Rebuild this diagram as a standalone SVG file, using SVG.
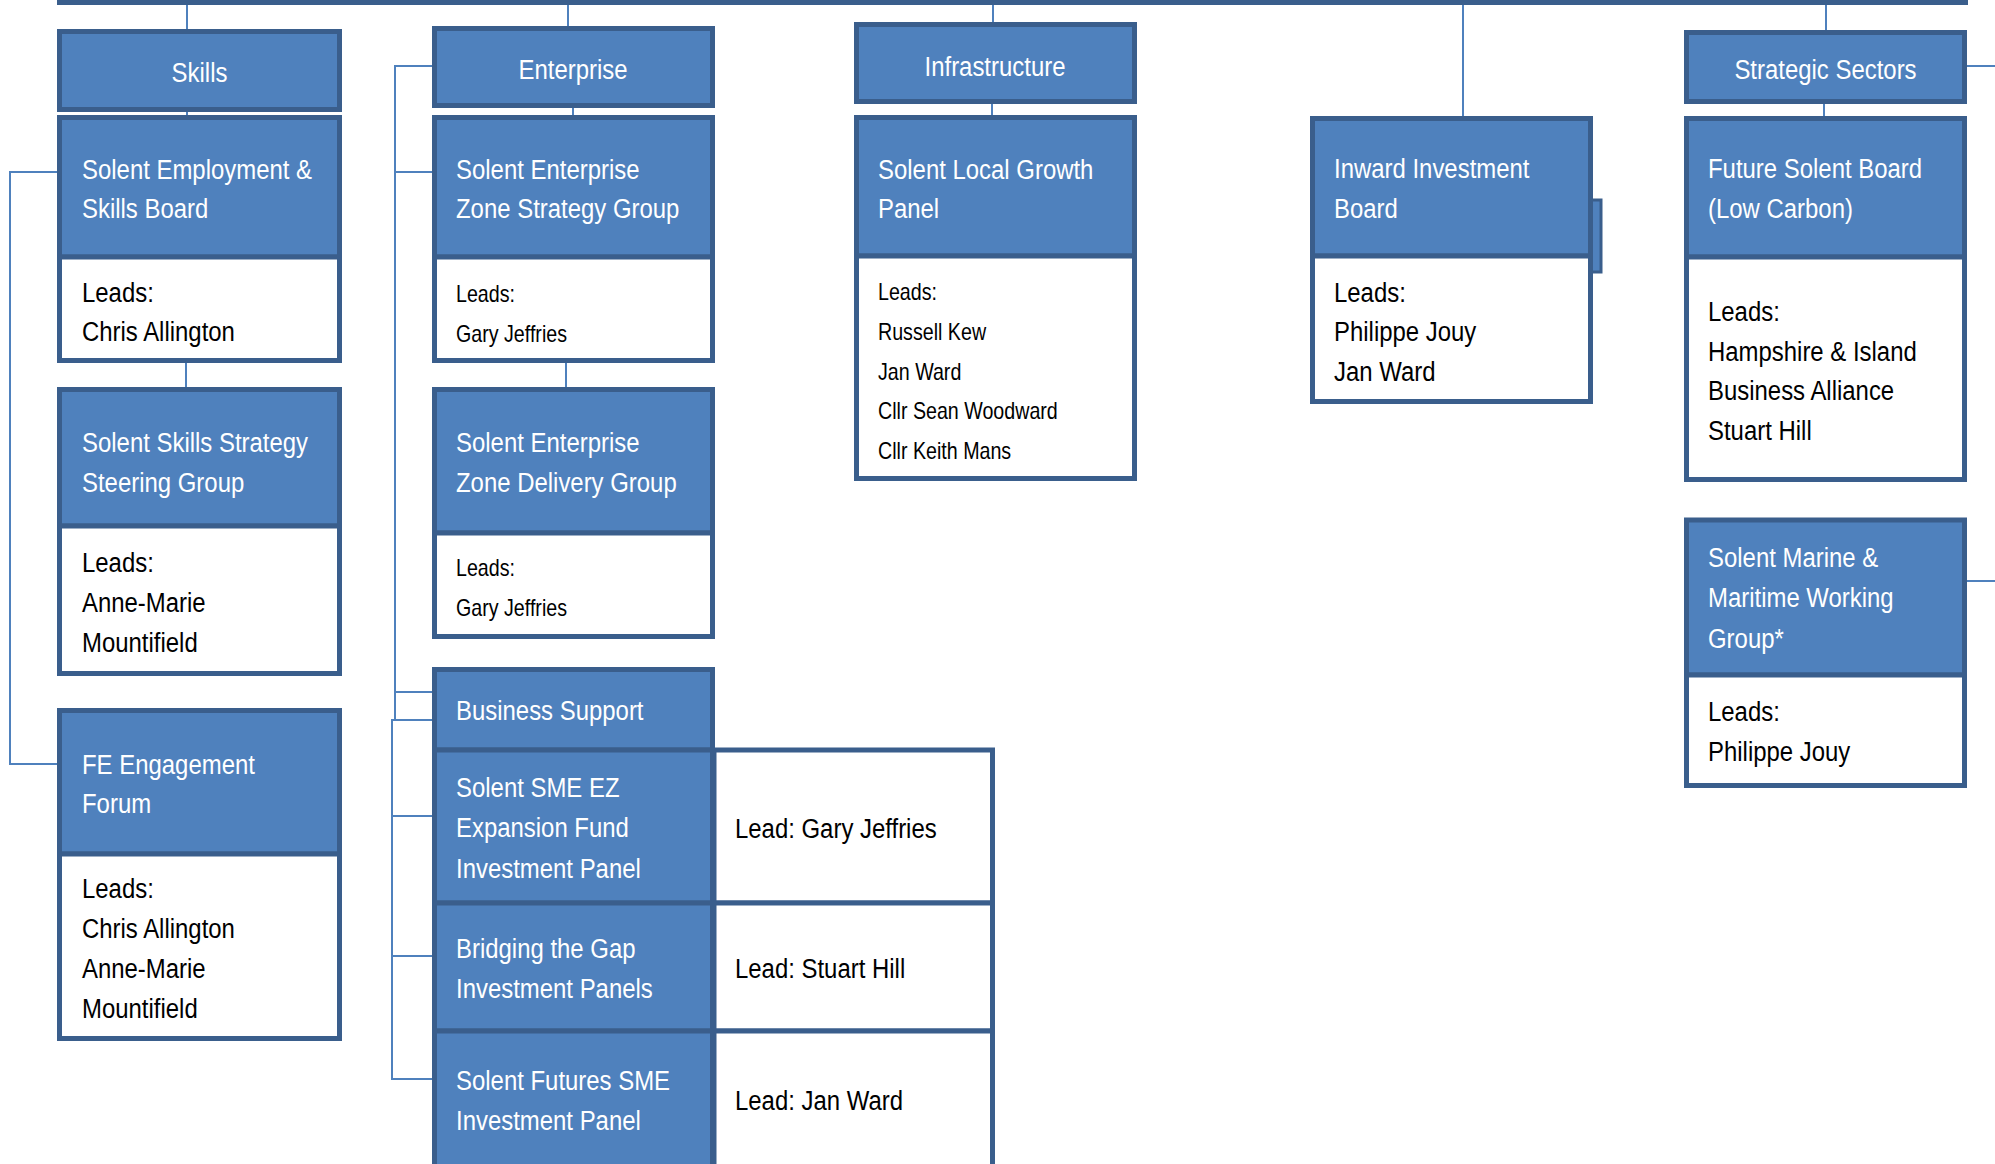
<svg xmlns="http://www.w3.org/2000/svg" width="1995" height="1164" viewBox="0 0 1995 1164">
<style>
.bl{fill:#4F81BD;stroke:#3A5E8C;stroke-width:5}
.wh{fill:#FFFFFF;stroke:#3A5E8C;stroke-width:5}
.cn{fill:none;stroke:#4F81BD;stroke-width:2}
.t{font-family:"Liberation Sans",Arial,sans-serif;font-size:28px;fill:#FFFFFF}
.l{font-family:"Liberation Sans",Arial,sans-serif;font-size:28px;fill:#000000}
.s{font-family:"Liberation Sans",Arial,sans-serif;font-size:23px;fill:#000000}
.c{text-anchor:middle}
</style>
<rect x="0" y="0" width="1995" height="1164" fill="#FFFFFF"/>
<g id="connectors">
<path class="cn" d="M187,4V29M187,112V115M186,363V387"/>
<path class="cn" d="M57,172H10V764H57"/>
<path class="cn" d="M568,4V26M573,108V115M566,363V387"/>
<path class="cn" d="M432,66H395V720M395,172H432M395,692H432"/>
<path class="cn" d="M432,720H392V1079H432M392,816H432M392,956H432"/>
<path class="cn" d="M993,4V22M992,104V115"/>
<path class="cn" d="M1463,4V116"/>
<path class="cn" d="M1826,4V30M1824,104V116"/>
<path class="cn" d="M1967,66H1995M1967,581H1995"/>
</g>
<g id="top-bar"><rect x="57" y="-5" width="1911" height="10" fill="#3A5E8C"/></g>

<g id="skills">
<rect class="bl" x="59.5" y="31.5" width="280" height="78"/>
<text class="t c" transform="translate(199.5,82) scale(0.855,1)">Skills</text>
</g>
<g id="employment-skills-board">
<rect class="bl" x="59.5" y="117.5" width="280" height="139.5"/>
<rect class="wh" x="59.5" y="257" width="280" height="103.5"/>
<text class="t" transform="translate(82,179) scale(0.855,1)"><tspan x="0" y="0">Solent Employment &amp;</tspan><tspan x="0" y="39">Skills Board</tspan></text>
<text class="l" transform="translate(82,302) scale(0.855,1)"><tspan x="0" y="0">Leads:</tspan><tspan x="0" y="39">Chris Allington</tspan></text>
</g>
<g id="skills-strategy-steering-group">
<rect class="bl" x="59.5" y="389.5" width="280" height="136.5"/>
<rect class="wh" x="59.5" y="526" width="280" height="147.5"/>
<text class="t" transform="translate(82,452) scale(0.855,1)"><tspan x="0" y="0">Solent Skills Strategy</tspan><tspan x="0" y="40">Steering Group</tspan></text>
<text class="l" transform="translate(82,572) scale(0.855,1)"><tspan x="0" y="0">Leads:</tspan><tspan x="0" y="40">Anne-Marie</tspan><tspan x="0" y="80">Mountifield</tspan></text>
</g>
<g id="fe-engagement-forum">
<rect class="bl" x="59.5" y="710.5" width="280" height="143.5"/>
<rect class="wh" x="59.5" y="854" width="280" height="184.5"/>
<text class="t" transform="translate(82,774) scale(0.855,1)"><tspan x="0" y="0">FE Engagement</tspan><tspan x="0" y="39">Forum</tspan></text>
<text class="l" transform="translate(82,898) scale(0.855,1)"><tspan x="0" y="0">Leads:</tspan><tspan x="0" y="40">Chris Allington</tspan><tspan x="0" y="80">Anne-Marie</tspan><tspan x="0" y="120">Mountifield</tspan></text>
</g>

<g id="enterprise">
<rect class="bl" x="434.5" y="28.5" width="278" height="77"/>
<text class="t c" transform="translate(573,79) scale(0.855,1)">Enterprise</text>
</g>
<g id="ez-strategy-group">
<rect class="bl" x="434.5" y="117.5" width="278" height="139.5"/>
<rect class="wh" x="434.5" y="257" width="278" height="103.5"/>
<text class="t" transform="translate(456,179) scale(0.855,1)"><tspan x="0" y="0">Solent Enterprise</tspan><tspan x="0" y="39">Zone Strategy Group</tspan></text>
<text class="s" transform="translate(456,302) scale(0.855,1)"><tspan x="0" y="0">Leads:</tspan><tspan x="0" y="40">Gary Jeffries</tspan></text>
</g>
<g id="ez-delivery-group">
<rect class="bl" x="434.5" y="389.5" width="278" height="143.5"/>
<rect class="wh" x="434.5" y="533" width="278" height="103.5"/>
<text class="t" transform="translate(456,452) scale(0.855,1)"><tspan x="0" y="0">Solent Enterprise</tspan><tspan x="0" y="40">Zone Delivery Group</tspan></text>
<text class="s" transform="translate(456,576) scale(0.855,1)"><tspan x="0" y="0">Leads:</tspan><tspan x="0" y="40">Gary Jeffries</tspan></text>
</g>
<g id="business-support">
<rect class="bl" x="434.5" y="669.5" width="278" height="80.5"/>
<text class="t" transform="translate(456,720) scale(0.855,1)">Business Support</text>
</g>
<g id="sme-ez-expansion-fund">
<rect class="bl" x="434.5" y="750" width="278" height="153"/>
<rect class="wh" x="714" y="750" width="278.5" height="153"/>
<text class="t" transform="translate(456,797) scale(0.855,1)"><tspan x="0" y="0">Solent SME EZ</tspan><tspan x="0" y="40">Expansion Fund</tspan><tspan x="0" y="81">Investment Panel</tspan></text>
<text class="l" transform="translate(735,838) scale(0.855,1)">Lead: Gary Jeffries</text>
</g>
<g id="bridging-the-gap">
<rect class="bl" x="434.5" y="903" width="278" height="128"/>
<rect class="wh" x="714" y="903" width="278.5" height="128"/>
<text class="t" transform="translate(456,958) scale(0.855,1)"><tspan x="0" y="0">Bridging the Gap</tspan><tspan x="0" y="40">Investment Panels</tspan></text>
<text class="l" transform="translate(735,978) scale(0.855,1)">Lead: Stuart Hill</text>
</g>
<g id="solent-futures-sme">
<rect class="bl" x="434.5" y="1031" width="278" height="145"/>
<rect class="wh" x="714" y="1031" width="278.5" height="145"/>
<text class="t" transform="translate(456,1090) scale(0.855,1)"><tspan x="0" y="0">Solent Futures SME</tspan><tspan x="0" y="40">Investment Panel</tspan></text>
<text class="l" transform="translate(735,1110) scale(0.855,1)">Lead: Jan Ward</text>
</g>

<g id="infrastructure">
<rect class="bl" x="856.5" y="24.5" width="278" height="77"/>
<text class="t c" transform="translate(995,76) scale(0.855,1)">Infrastructure</text>
</g>
<g id="local-growth-panel">
<rect class="bl" x="856.5" y="117.5" width="278" height="138.5"/>
<rect class="wh" x="856.5" y="256" width="278" height="222.5"/>
<text class="t" transform="translate(878,179) scale(0.855,1)"><tspan x="0" y="0">Solent Local Growth</tspan><tspan x="0" y="39">Panel</tspan></text>
<text class="s" transform="translate(878,300) scale(0.855,1)"><tspan x="0" y="0">Leads:</tspan><tspan x="0" y="39.8">Russell Kew</tspan><tspan x="0" y="79.6">Jan Ward</tspan><tspan x="0" y="119.4">Cllr Sean Woodward</tspan><tspan x="0" y="159.2">Cllr Keith Mans</tspan></text>
</g>

<g id="inward-investment-board">
<rect class="bl" x="1588" y="200" width="13" height="72" style="stroke-width:3"/>
<rect class="bl" x="1312.5" y="118.5" width="278" height="137.5"/>
<rect class="wh" x="1312.5" y="256" width="278" height="145.5"/>
<text class="t" transform="translate(1334,178) scale(0.855,1)"><tspan x="0" y="0">Inward Investment</tspan><tspan x="0" y="40">Board</tspan></text>
<text class="l" transform="translate(1334,302) scale(0.855,1)"><tspan x="0" y="0">Leads:</tspan><tspan x="0" y="39.5">Philippe Jouy</tspan><tspan x="0" y="79">Jan Ward</tspan></text>
</g>

<g id="strategic-sectors">
<rect class="bl" x="1686.5" y="32.5" width="278" height="69"/>
<text class="t c" transform="translate(1825.5,79) scale(0.855,1)">Strategic Sectors</text>
</g>
<g id="future-solent-board">
<rect class="bl" x="1686.5" y="118.5" width="278" height="138.5"/>
<rect class="wh" x="1686.5" y="257" width="278" height="222.5"/>
<text class="t" transform="translate(1708,178) scale(0.855,1)"><tspan x="0" y="0">Future Solent Board</tspan><tspan x="0" y="40">(Low Carbon)</tspan></text>
<text class="l" transform="translate(1708,321) scale(0.855,1)"><tspan x="0" y="0">Leads:</tspan><tspan x="0" y="40">Hampshire &amp; Island</tspan><tspan x="0" y="79.5">Business Alliance</tspan><tspan x="0" y="119">Stuart Hill</tspan></text>
</g>
<g id="marine-maritime-working-group">
<rect class="bl" x="1686.5" y="520" width="278" height="155"/>
<rect class="wh" x="1686.5" y="675" width="278" height="110.5"/>
<text class="t" transform="translate(1708,567) scale(0.855,1)"><tspan x="0" y="0">Solent Marine &amp;</tspan><tspan x="0" y="40.5">Maritime Working</tspan><tspan x="0" y="81">Group*</tspan></text>
<text class="l" transform="translate(1708,721) scale(0.855,1)"><tspan x="0" y="0">Leads:</tspan><tspan x="0" y="40">Philippe Jouy</tspan></text>
</g>
</svg>
